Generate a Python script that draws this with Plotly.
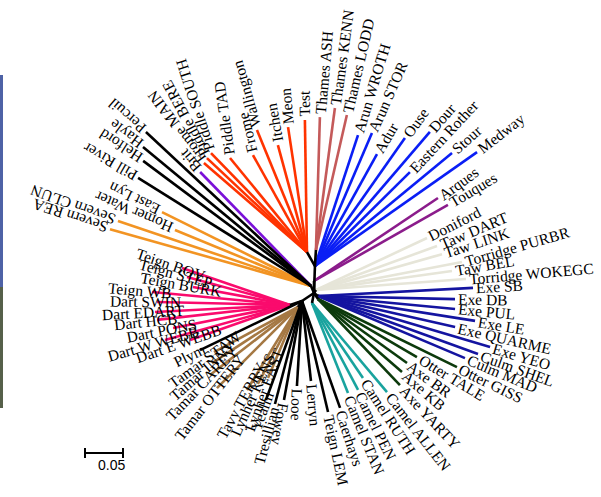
import math
import plotly.graph_objects as go

# ---------------- data: unrooted tree (angles in screen degrees, lengths in substitutions/site) ----
node_names  = ["T", "Rd", "Th", "P", "Lf", "Bg", "Ex", "Gr", "Tl", "LL", "Pk", "Br"]
node_parent = ["R", "T", "T", "R", "R", "R", "R", "R", "R", "R", "LL", "LL"]
node_angle  = [-88, -119.7, -86.4, -90, -113.2, -56.3, 36.9, 56.3, 101.3, 146.3, 161.6, 123.7]
node_length = [0.0355, 0.0212, 0.0211, 0.0158, 0.0100, 0.0047, 0.0066, 0.0095, 0.0134, 0.0190, 0.0166, 0.0095]

tip_names = [
    "Frome MAIN", "Piddle BERE", "Piddle SOUTH", "Piddle TAD", "Frome", "Wallington", "Itchen", "Meon", "Test",
    "Thames ASH", "Thames KENN", "Thames LODD",
    "Arun WROTH", "Arun STOR", "Adur", "Ouse", "Dour", "Eastern Rother", "Stour", "Medway",
    "Arques", "Touques",
    "Doniford", "Taw DART", "Taw LINK", "Torridge PURBR", "Taw BEL", "Torridge WOKEGC",
    "Exe SB", "Exe DB", "Exe PUL", "Exe LE", "Exe QUARME", "Exe YEO", "Culm SHEL", "Culm MAD",
    "Otter GISS", "Otter TALE", "Axe BR", "Axe KB", "Axe YARTY",
    "Camel ALLEN", "Camel RUTH", "Camel PEN", "Camel STAN",
    "Caerhays", "Teign LEM", "Lerryn", "Looe", "Fowey", "Tresillian", "Yealm", "Plym",
    "Lynher EAST", "Lynher KENS", "Tavy TERRY", "Tamar OTTERY", "Tamar CAREY", "Tamar INNY", "Tamar STAW",
    "Dart E WEBB", "Dart W WEBB", "Dart PONS", "Dart HCB", "Dart EDART", "Dart SWIN",
    "Teign WB", "Teign BURK", "Teign STEP", "Teign BOV",
    "Severn REA", "Severn CLUN", "Homer Water", "East Lyn",
    "Pill River", "Helford", "Hayle", "Percuil",
    "Brit",
]
tip_group = (
    ["red"] * 9 + ["thames"] * 3 + ["blue"] * 8 + ["purple"] * 2 + ["beige"] * 6 +
    ["exe"] * 8 + ["green"] * 5 + ["teal"] * 4 + ["black_s"] * 8 + ["brown"] * 7 +
    ["pink"] * 10 + ["orange"] * 4 + ["black_n"] * 4 + ["brit"]
)
tip_angle = [
    -139.2, -136.8, -134.1, -129.3, -119.1, -112.3, -105.2, -98.6, -90.9,
    -88.3, -82.4, -77.1,
    -71.8, -66.8, -61.0, -54.9, -49.4, -44.7, -39.5, -35.1,
    -33.8, -29.6,
    -25.1, -20.0, -15.9, -10.9, -8.0, -4.2,
    -3.0, 1.3, 5.4, 9.0, 12.7, 16.5, 19.9, 22.9,
    26.1, 30.4, 35.7, 41.0, 46.4,
    49.9, 55.8, 62.1, 68.2,
    70.4, 76.8, 83.6, 93.4, 100.3, 104.7, 110.0, 154.3,
    112.9, 117.5, 121.6, 135.0, 142.3, 146.9, 151.8,
    160.7, 164.4, 168.9, 173.6, 177.0, -178.7, -174.6, -169.5, -164.8, -161.1,
    -164.2, -161.4, -157.6, -153.6,
    -148.0, -143.3, -140.4, -137.0,
    -134.2,
]
tip_length = [
    0.1791, 0.1805, 0.1814, 0.1599, 0.1461, 0.1734, 0.1459, 0.1663, 0.1737,
    0.1750, 0.1886, 0.1822,
    0.1814, 0.1904, 0.1684, 0.2059, 0.2324, 0.1758, 0.2337, 0.2607,
    0.1963, 0.2027,
    0.1613, 0.1695, 0.1724, 0.1956, 0.1807, 0.1979,
    0.2042, 0.1803, 0.1811, 0.2092, 0.1849, 0.2361, 0.2239, 0.2099,
    0.2036, 0.1509, 0.1442, 0.1464, 0.1563,
    0.1532, 0.1193, 0.1295, 0.1275,
    0.1493, 0.1500, 0.1059, 0.1120, 0.1324, 0.1401, 0.1386, 0.1489,
    0.1014, 0.1142, 0.1282, 0.1508, 0.1463, 0.1350, 0.1254,
    0.1393, 0.1708, 0.1568, 0.1761, 0.1779, 0.1750, 0.1824, 0.1299, 0.1404, 0.1503,
    0.2749, 0.2680, 0.1936, 0.2189,
    0.2683, 0.2755, 0.2869, 0.2970,
    0.2093,
]
label_angle = [
    -127, -118, -108, -98, -104, -106, -100, -95, -91,
    -85, -82, -77,
    -73, -66, -60, -54, -49, -47, -42, -38,
    -36, -31,
    -27, -23, -18, -16, -10, -5,
    -3, 1, 5.4, 9, 12.7, 16.5, 19.9, 22.9,
    26, 31, 36, 41, 47,
    52, 57, 64, 68,
    72, 78, 85, 92, 100, 105, 110, 154,
    110, 114, 119, 128, 134, 139, 144,
    161, 164, 169, 174, 177, -179, -175, -170, -165, -161,
    -162, -160, -157, -154,
    -150, -147, -143, -139,
    -131,
]
# "out": label starts at tip reading outward; "in": flipped, ends at tip; "mid": flipped, centred just past tip
label_mode = (
    ["out"] * 50 + ["in", "mid", "mid"] + ["mid"] * 7 + ["mid"] * 10 + ["out"] * 9
)

GROUP_PARENT = {"red": "Rd", "thames": "Th", "blue": "T", "purple": "P", "beige": "Bg",
                "exe": "Ex", "green": "Gr", "teal": "Tl", "black_s": "LL", "brown": "Br",
                "pink": "Pk", "orange": "Lf", "black_n": "Lf", "brit": "Lf"}
GROUP_COLOR = {"red": "#FF3300", "thames": "#C45A5A", "blue": "#0A1EF5", "purple": "#8B1C8B",
               "beige": "#E6E5D8", "exe": "#1414A0", "green": "#0C3A0C", "teal": "#19A39E",
               "black_s": "#000000", "brown": "#A57843", "pink": "#FA0B6D", "orange": "#F29423",
               "black_n": "#000000", "brit": "#7A10D8"}

SCALE_LEN = 0.05
SCALE_LABEL = "0.05"

# ---------------- layout constants ----------------
W_PX, H_PX = 601, 497
PX = 38 / SCALE_LEN            # pixels per unit of branch length
ROOT_PX = (314, 293)           # where the root node sits on the page
FS = 15.5
FONT = "Liberation Serif, Times New Roman, serif"
LW = 2.6
MID_OFF = 12

TIMES_W = {" ": 250, "A": 722, "B": 667, "C": 667, "D": 722, "E": 611, "F": 556, "G": 722, "H": 722,
           "I": 333, "J": 389, "K": 722, "L": 611, "M": 889, "N": 722, "O": 722, "P": 556, "Q": 722,
           "R": 667, "S": 556, "T": 611, "U": 722, "V": 722, "W": 944, "X": 722, "Y": 722, "Z": 611,
           "a": 444, "b": 500, "c": 444, "d": 500, "e": 444, "f": 333, "g": 500, "h": 500, "i": 278,
           "j": 278, "k": 500, "l": 278, "m": 778, "n": 500, "o": 500, "p": 500, "q": 500, "r": 333,
           "s": 389, "t": 278, "u": 500, "v": 500, "w": 722, "x": 500, "y": 500, "z": 444}


def text_w(s):
    return sum(TIMES_W.get(c, 500) for c in s) / 1000.0 * FS


def step(p, ang, length):
    r = math.radians(ang)
    return (p[0] + length * math.cos(r), p[1] - length * math.sin(r))


def norm(a):
    while a > 180:
        a -= 360
    while a <= -180:
        a += 360
    return a


pos = {"R": (0.0, 0.0)}
for n, p, a, l in zip(node_names, node_parent, node_angle, node_length):
    pos[n] = step(pos[p], a, l)

fig = go.Figure()

# backbone
bx, by = [], []
for n, p in zip(node_names, node_parent):
    bx += [pos[p][0], pos[n][0], None]
    by += [pos[p][1], pos[n][1], None]

segs = {}
tips = []
for name, g, a, l in zip(tip_names, tip_group, tip_angle, tip_length):
    start = pos[GROUP_PARENT[g]]
    end = step(start, a, l)
    tips.append(end)
    segs.setdefault(GROUP_COLOR[g], ([], []))
    segs[GROUP_COLOR[g]][0].extend([start[0], end[0], None])
    segs[GROUP_COLOR[g]][1].extend([start[1], end[1], None])

order = ["#E6E5D8", "#F29423", "#FF3300", "#C45A5A", "#0A1EF5", "#8B1C8B", "#7A10D8", "#1414A0",
         "#0C3A0C", "#19A39E", "#A57843", "#FA0B6D", "#000000"]
for col in order:
    if col in segs:
        xs, ys = segs[col]
        fig.add_trace(go.Scatter(x=xs, y=ys, mode="lines", line=dict(color=col, width=LW),
                                 hoverinfo="skip", showlegend=False))
fig.add_trace(go.Scatter(x=bx, y=by, mode="lines", line=dict(color="#000000", width=LW),
                         hoverinfo="skip", showlegend=False))

# tip labels
annotations = []
for name, tip, a, la, mode in zip(tip_names, tips, tip_angle, label_angle, label_mode):
    w = text_w(name)
    if mode == "out":
        c = step(tip, la, (3 + w / 2) / PX)
        ta = norm(la)
    elif mode == "in":
        c = step(tip, la, (3 + w / 2) / PX)
        ta = norm(la + 180)
    else:
        c = step(tip, la, MID_OFF / PX)
        ta = norm(la + 180)
    annotations.append(dict(x=c[0], y=c[1], text=name, showarrow=False, textangle=ta,
                            xanchor="center", yanchor="middle",
                            font=dict(family=FONT, size=FS, color="#000000")))

# scale bar
sx0 = (85 - ROOT_PX[0]) / PX
sy0 = -(453 - ROOT_PX[1]) / PX
tick = 5 / PX
fig.add_trace(go.Scatter(
    x=[sx0, sx0 + SCALE_LEN, None, sx0, sx0, None, sx0 + SCALE_LEN, sx0 + SCALE_LEN],
    y=[sy0, sy0, None, sy0 - tick, sy0 + tick, None, sy0 - tick, sy0 + tick],
    mode="lines", line=dict(color="#000000", width=2), hoverinfo="skip", showlegend=False))
annotations.append(dict(x=sx0 + SCALE_LEN / 2 + 7 / PX, y=sy0 - 12 / PX, text=SCALE_LABEL,
                        showarrow=False, xanchor="center", yanchor="middle",
                        font=dict(family="Liberation Sans, Arial, sans-serif", size=14, color="#000000")))

shapes = [
    dict(type="rect", xref="paper", yref="paper", x0=0, x1=3 / W_PX,
         y0=1 - 287 / H_PX, y1=1 - 75 / H_PX, fillcolor="#4E62A6", line=dict(width=0)),
    dict(type="rect", xref="paper", yref="paper", x0=0, x1=3 / W_PX,
         y0=1 - 408 / H_PX, y1=1 - 287 / H_PX, fillcolor="#56604A", line=dict(width=0)),
]

fig.update_layout(
    width=W_PX, height=H_PX, margin=dict(l=0, r=0, t=0, b=0),
    paper_bgcolor="white", plot_bgcolor="white", showlegend=False,
    xaxis=dict(visible=False, range=[-ROOT_PX[0] / PX, (W_PX - ROOT_PX[0]) / PX], fixedrange=True),
    yaxis=dict(visible=False, range=[-(H_PX - ROOT_PX[1]) / PX, ROOT_PX[1] / PX], fixedrange=True),
    annotations=annotations, shapes=shapes,
)

fig.write_html("out.html", config={"displayModeBar": False},
               post_script="document.body.style.margin='0px';")
